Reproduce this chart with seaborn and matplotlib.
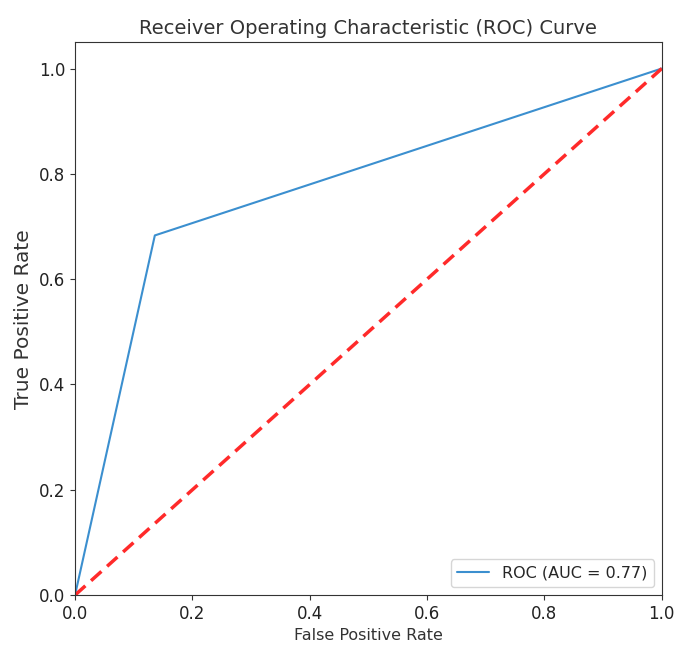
import matplotlib
matplotlib.use("Agg")
import matplotlib.pyplot as plt
import seaborn as sns
import pandas as pd

fpr = [0.0, 0.136, 1.0]
tpr = [0.0, 0.683, 1.0]
diag_x = [0.0, 1.0]
diag_y = [0.0, 1.0]
auc_label = "ROC (AUC = 0.77)"

sns.set_style("ticks")
plt.rcParams['font.family'] = ['DejaVu Sans']

fig = plt.figure(figsize=(6.76, 6.59), dpi=100)
ax = fig.add_axes([0.111, 0.097, 0.868, 0.839])

df = pd.DataFrame({"fpr": fpr, "tpr": tpr})
sns.lineplot(data=df, x="fpr", y="tpr", ax=ax, color="#3b8fcf", linewidth=1.5,
             label=auc_label, sort=False, estimator=None)
ax.plot(diag_x, diag_y, color="#ff2a2a", linestyle="--", linewidth=2.5, dashes=(4, 2.2))

ax.set_xlim(0, 1)
ax.set_ylim(0, 1.05)
ax.set_xticks([0.0, 0.2, 0.4, 0.6, 0.8, 1.0])
ax.set_yticks([0.0, 0.2, 0.4, 0.6, 0.8, 1.0])
ax.tick_params(labelsize=12, color="#333333", labelcolor="#222222")
ax.set_xlabel("False Positive Rate", fontsize=11.5, color="#333333")
ax.set_ylabel("True Positive Rate", fontsize=14.5, color="#333333", labelpad=4)
ax.set_title("Receiver Operating Characteristic (ROC) Curve", fontsize=14, color="#333333")
for s in ax.spines.values():
    s.set_color("#333333")
    s.set_visible(True)
leg = ax.legend(loc="lower right", fontsize=11.5, handlelength=2.0)
fig.savefig("out.png", dpi=100)
